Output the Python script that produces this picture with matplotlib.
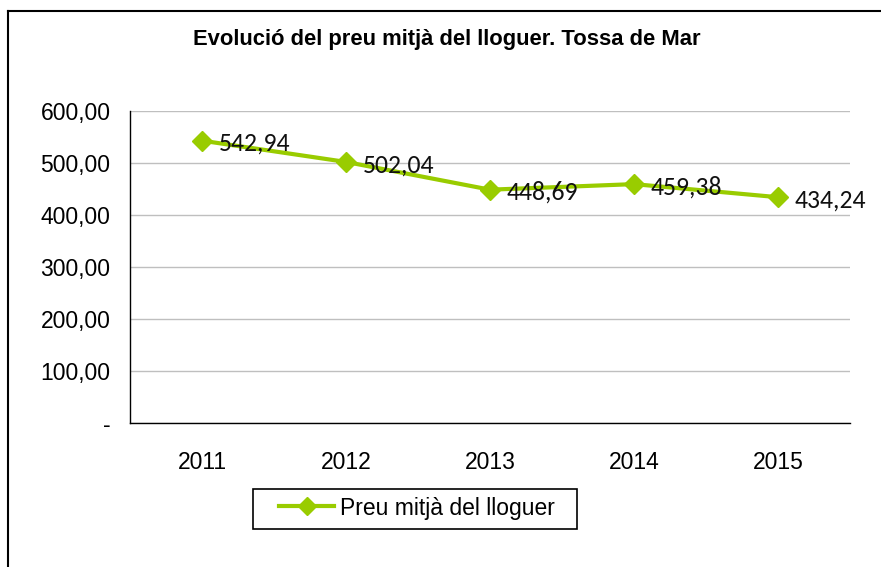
import matplotlib
matplotlib.use("Agg")
import matplotlib.pyplot as plt
from matplotlib.lines import Line2D
from matplotlib.patches import Rectangle

years = ["2011", "2012", "2013", "2014", "2015"]
values = [542.94, 502.04, 448.69, 459.38, 434.24]
ytick_vals = [0, 100, 200, 300, 400, 500, 600]
ytick_labels = ["-", "100,00", "200,00", "300,00", "400,00", "500,00", "600,00"]
title = "Evolució del preu mitjà del lloguer. Tossa de Mar"
series_name = "Preu mitjà del lloguer"

W, H = 881, 567
fig = plt.figure(figsize=(W / 100, H / 100), dpi=100)
green = "#99CC00"
FS = 16.5

ax = fig.add_axes([130 / W, 1 - 423 / H, 720 / W, 312 / H])
x = list(range(len(years)))
ax.plot(x, values, color=green, lw=3, marker="D", ms=10.5,
        mec=green, mfc=green, label=series_name, solid_joinstyle="miter")
for xi, v in zip(x, values):
    ax.annotate(f"{v:.2f}".replace(".", ","), (xi, v), xytext=(12, -2),
                textcoords="offset points", ha="left", va="center",
                fontsize=18.5, family=["Carlito", "Lato", "DejaVu Sans"], color="#111111")

ax.set_xlim(-0.5, len(years) - 0.5)
ax.set_ylim(0, 600)
ax.set_xticks(x)
ax.set_xticklabels(years, family="Liberation Sans", fontsize=FS)
ax.set_yticks(ytick_vals)
ax.set_yticklabels(ytick_labels, family="Liberation Sans", fontsize=FS)
ax.tick_params(axis="both", length=0)
ax.tick_params(axis="x", pad=20)
ax.tick_params(axis="y", pad=14)
ax.grid(axis="y", color="#BFBFBF", lw=1)
ax.set_axisbelow(True)
for s in ["top", "right"]:
    ax.spines[s].set_visible(False)
ax.spines["left"].set_color("#000000")
ax.spines["left"].set_linewidth(1)
ax.spines["bottom"].set_color("#000000")
ax.spines["bottom"].set_linewidth(1)

fig.text(447 / W, 1 - 40 / H, title, ha="center", va="center",
         fontsize=15.8, fontweight="bold", family="Liberation Sans")

handle = Line2D([0], [0], color=green, lw=3, marker="D", ms=9, mfc=green, mec=green)
leg = fig.legend([handle], [series_name], loc="center left",
                 bbox_to_anchor=(279 / W, 1 - 508 / H), frameon=False,
                 prop={"family": "Liberation Sans", "size": FS},
                 handlelength=2.4, handletextpad=0.25, borderpad=0,
                 borderaxespad=0)
fig.add_artist(Rectangle((253 / W, 1 - 529 / H), (577 - 253) / W, 40 / H,
                         transform=fig.transFigure, fill=False,
                         edgecolor="black", lw=1.2))

# outer chart-area border (top and left edges visible)
fig.add_artist(Line2D([8 / W, 1.0], [1 - 11 / H, 1 - 11 / H], color="black", lw=1.5,
                      transform=fig.transFigure))
fig.add_artist(Line2D([8 / W, 8 / W], [0, 1 - 11 / H], color="black", lw=1.5,
                      transform=fig.transFigure))

fig.savefig("out.png", dpi=100)
